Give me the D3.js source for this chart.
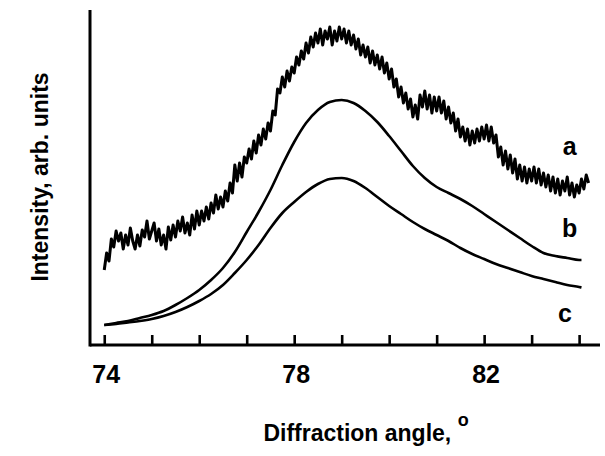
<!DOCTYPE html>
<html>
<head>
<meta charset="utf-8">
<script src="https://cdnjs.cloudflare.com/ajax/libs/d3/7.8.5/d3.min.js"></script>
<style>
  body { margin: 0; background: #fff; }
  text { font-family: "Liberation Sans", Arial, sans-serif; font-weight: bold; fill: #000; }
</style>
</head>
<body>
<div id="vis"></div>
<script>
// angles of the smooth curves (deg)
var angles = [74.0, 74.25, 74.5, 74.75, 75.0, 75.25, 75.5, 75.75, 76.0, 76.25, 76.5, 76.75,
  77.0, 77.25, 77.5, 77.75, 78.0, 78.25, 78.5, 78.75, 79.0, 79.25, 79.5, 79.75,
  80.0, 80.25, 80.5, 80.75, 81.0, 81.25, 81.5, 81.75, 82.0, 82.25, 82.5, 82.75,
  83.0, 83.25, 83.5, 83.75, 84.0, 84.05];

// curve b
var seriesB = [20, 22, 24, 27, 30, 34, 40, 47, 55, 65, 77, 93,
  113, 133, 155, 180, 203, 222, 235, 243, 245, 242, 234, 223,
  209, 194, 179, 167, 158, 152, 146, 139, 131, 123, 115, 107,
  99, 92, 89, 87, 85, 85];

// curve c
var seriesC = [20, 21, 22.5, 24, 26, 29, 33, 38, 44, 51, 60, 72,
  85, 100, 117, 132, 143, 153, 161, 166, 167, 164, 157, 148,
  139, 131, 123, 116, 110, 104, 97, 91, 86, 81, 77, 73,
  69, 66, 63, 60, 58, 57.5];

// curve a (raw, noisy), sampled every 0.05 deg from 74.0
var aStart = 74.0, aStep = 0.05;
var seriesA = [
  75, 92, 84, 106, 98, 114, 104, 112, 96, 110, 100, 117, 104, 96, 110, 99, 115, 108, 124, 106,
  114, 122, 104, 116, 100, 110, 96, 118, 105, 120, 108, 124, 114, 128, 112, 122, 110, 130, 116, 134,
  120, 134, 124, 138, 126, 142, 132, 150, 136, 148, 138, 154, 144, 162, 152, 180, 164, 182, 168, 188,
  182, 196, 186, 204, 192, 210, 200, 216, 206, 222, 214, 234, 230, 256, 252, 268, 258, 274, 264, 278,
  272, 288, 280, 294, 286, 302, 292, 308, 298, 312, 302, 316, 300, 314, 306, 318, 300, 314, 304, 318,
  306, 316, 302, 314, 300, 310, 296, 306, 290, 300, 288, 298, 282, 294, 280, 290, 276, 288, 272, 282,
  266, 276, 258, 266, 248, 258, 242, 252, 236, 246, 228, 240, 226, 250, 238, 254, 236, 250, 232, 248,
  234, 248, 232, 244, 226, 238, 222, 232, 214, 226, 208, 218, 204, 216, 200, 214, 202, 216, 204, 218,
  206, 220, 204, 218, 202, 210, 188, 198, 180, 194, 176, 190, 172, 186, 166, 180, 164, 178, 162, 176,
  164, 178, 162, 176, 160, 172, 158, 170, 154, 168, 152, 166, 150, 164, 154, 168, 150, 162, 148, 160,
  152, 166, 156, 170, 162
];

var xTicks = [74, 75, 76, 77, 78, 79, 80, 81, 82, 83, 84];
var xTickLabels = [74, 78, 82];

var curveLabels = [
  { name: 'a', x: 83.8, y: 190 },
  { name: 'b', x: 83.8, y: 108 },
  { name: 'c', x: 83.7, y: 23 }
];

var width = 605, height = 456;
var margin = { top: 10, left: 90, bottom: 111, right: 5 };
var w = width - margin.left - margin.right,
  h = height - margin.top - margin.bottom;

var svg = d3.select('#vis').append('svg')
  .attr('width', width)
  .attr('height', height);

var g = svg.append('g')
  .attr('transform', 'translate(' + margin.left + ',' + margin.top + ')');

var x = d3.scaleLinear().domain([73.7, 84.44]).range([0, w]);
var y = d3.scaleLinear().domain([0, 335]).range([h, 0]);

var line = d3.line()
  .x(function(d) { return x(d[0]); })
  .y(function(d) { return y(d[1]); });

var dataA = seriesA.map(function(v, i) { return [aStart + i * aStep, v]; });
var dataB = angles.map(function(a, i) { return [a, seriesB[i]]; });
var dataC = angles.map(function(a, i) { return [a, seriesC[i]]; });

g.append('path').datum(dataA)
  .attr('d', line)
  .attr('fill', 'none').attr('stroke', '#000')
  .attr('stroke-width', 3).attr('stroke-linejoin', 'round');

g.append('path').datum(dataB)
  .attr('d', line.curve(d3.curveMonotoneX))
  .attr('fill', 'none').attr('stroke', '#000').attr('stroke-width', 2.6);

g.append('path').datum(dataC)
  .attr('d', line.curve(d3.curveMonotoneX))
  .attr('fill', 'none').attr('stroke', '#000').attr('stroke-width', 2.6);

// x axis with inward ticks
var xAxis = d3.axisTop(x).tickValues(xTicks).tickSize(10).tickFormat('');
var gx = g.append('g').attr('transform', 'translate(0,' + h + ')').call(xAxis);
gx.select('.domain').remove();
gx.selectAll('.tick line').attr('stroke', '#000').attr('stroke-width', 2.6);

g.append('line')
  .attr('x1', 0).attr('x2', w)
  .attr('y1', h).attr('y2', h)
  .attr('stroke', '#000').attr('stroke-width', 3);

g.append('line')
  .attr('x1', 0).attr('x2', 0)
  .attr('y1', 0).attr('y2', h + 1.5)
  .attr('stroke', '#000').attr('stroke-width', 3);

g.selectAll('.xlab').data(xTickLabels).enter().append('text')
  .attr('class', 'xlab')
  .attr('x', function(d) { return x(d) + 2; })
  .attr('y', h + 38)
  .attr('text-anchor', 'middle')
  .style('font-size', '25px')
  .text(function(d) { return d; });

g.selectAll('.clab').data(curveLabels).enter().append('text')
  .attr('class', 'clab')
  .attr('x', function(d) { return x(d.x); })
  .attr('y', function(d) { return y(d.y); })
  .attr('text-anchor', 'middle')
  .style('font-size', '25px')
  .text(function(d) { return d.name; });

// axis titles
var xt = svg.append('text')
  .attr('x', 366)
  .attr('y', 441)
  .attr('text-anchor', 'middle')
  .style('font-size', '23px');
xt.append('tspan').text('Diffraction angle, ');
xt.append('tspan').attr('dy', -15).style('font-size', '18px').text('o');

svg.append('text')
  .attr('transform', 'translate(48,177) rotate(-90)')
  .attr('text-anchor', 'middle')
  .style('font-size', '23px')
  .text('Intensity, arb. units');
</script>
</body>
</html>
